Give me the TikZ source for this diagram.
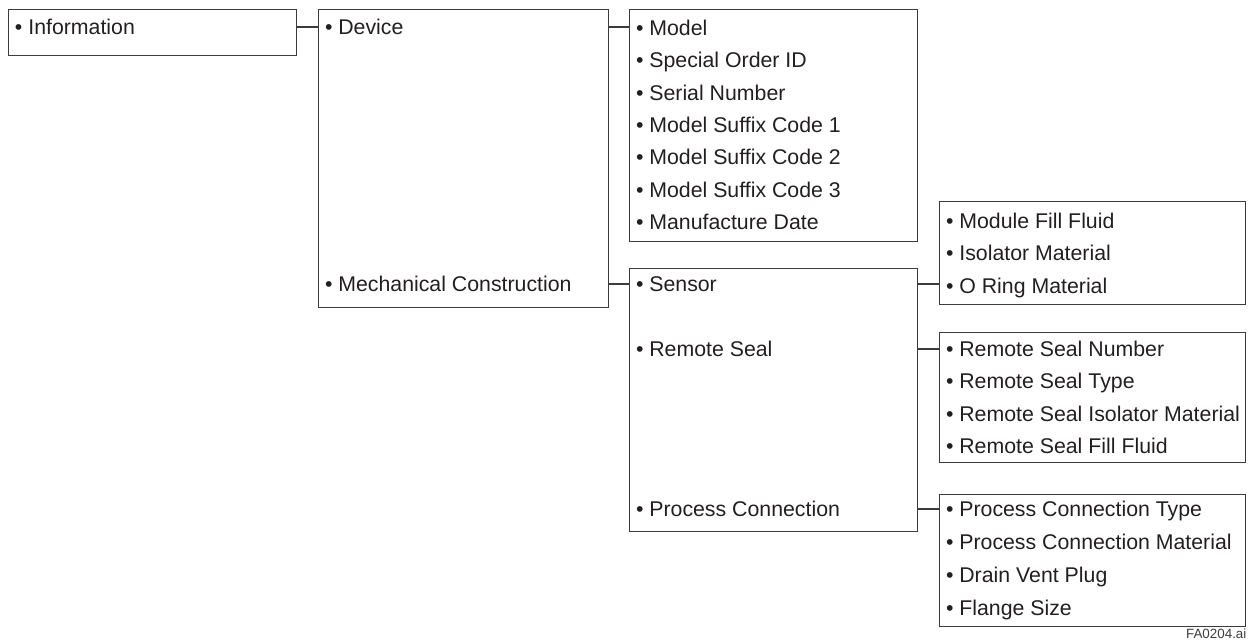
\documentclass[tikz,border=0pt]{standalone}
\usepackage{fontspec}
\setmainfont{Liberation Sans}
\usepackage{tikz}
\usetikzlibrary{positioning,calc}
\definecolor{boxgray}{RGB}{60,60,60}
\definecolor{textblack}{RGB}{35,31,32}

\begin{document}
\begin{tikzpicture}[x=0.5pt, y=-0.5pt, line width=0.6pt]
  \tikzstyle{box} = [rectangle, draw=boxgray, anchor=north west, inner sep=0pt]
  \tikzstyle{item} = [anchor=west, inner sep=0pt, outer sep=0pt, text height=7.6pt, text depth=0pt, text=textblack, font=\fontsize{10.65}{12}\selectfont]
  \tikzstyle{link} = [draw=boxgray]
  \useasboundingbox (0,0) rectangle (1249,642);

  % boxes
  \node[box, minimum width=144pt, minimum height=23pt] (infobox) at (8,9) {};
  \node[box, minimum width=145pt, minimum height=149pt] (devbox) at (318,9) {};
  \node[box, minimum width=144pt, minimum height=116pt] (modelbox) at (629,9) {};
  \node[box, minimum width=144pt, minimum height=131.5pt] (sensorbox) at (629,268) {};
  \node[box, minimum width=153pt, minimum height=51.5pt] (fluidbox) at (939,201) {};
  \node[box, minimum width=153pt, minimum height=65pt] (sealbox) at (939,332) {};
  \node[box, minimum width=153pt, minimum height=66pt] (procbox) at (939,494) {};

  % first level
  \node[item] (info) at (15,27) {• Information};
  \node[item] (device) at (325,27) {• Device};
  \node[item] (mech) at (325,284) {• Mechanical Construction};

  % device data
  \node[item] (model) at (636,28) {• Model};
  \node[item, below right=8.55pt and 0pt of model.south west] (orderid) {• Special Order ID};
  \node[item, below right=8.55pt and 0pt of orderid.south west] (serial) {• Serial Number};
  \node[item, below right=8.55pt and 0pt of serial.south west] (suffix1) {• Model Suffix Code 1};
  \node[item, below right=8.55pt and 0pt of suffix1.south west] (suffix2) {• Model Suffix Code 2};
  \node[item, below right=8.55pt and 0pt of suffix2.south west] (suffix3) {• Model Suffix Code 3};
  \node[item, below right=8.55pt and 0pt of suffix3.south west] (mfgdate) {• Manufacture Date};

  % mechanical construction
  \node[item] (sensor) at (636,284) {• Sensor};
  \node[item] (seal) at (636,349) {• Remote Seal};
  \node[item] (proc) at (636,509) {• Process Connection};

  % sensor data
  \node[item] (fillfluid) at (946,221) {• Module Fill Fluid};
  \node[item, below right=8.55pt and 0pt of fillfluid.south west] (isolator) {• Isolator Material};
  \node[item, below right=8.55pt and 0pt of isolator.south west] (oring) {• O Ring Material};

  % remote seal data
  \node[item] (sealnum) at (946,349) {• Remote Seal Number};
  \node[item, below right=8.55pt and 0pt of sealnum.south west] (sealtype) {• Remote Seal Type};
  \node[item, below right=8.55pt and 0pt of sealtype.south west] (sealiso) {• Remote Seal Isolator Material};
  \node[item, below right=8.55pt and 0pt of sealiso.south west] (sealfill) {• Remote Seal Fill Fluid};

  % process connection data
  \node[item] (proctype) at (946,509) {• Process Connection Type};
  \node[item, below right=8.8pt and 0pt of proctype.south west] (procmat) {• Process Connection Material};
  \node[item, below right=8.8pt and 0pt of procmat.south west] (drain) {• Drain Vent Plug};
  \node[item, below right=8.8pt and 0pt of drain.south west] (flange) {• Flange Size};

  % connectors
  \draw[link] (info.west -| infobox.east) -- (info.west -| devbox.west);
  \draw[link] (device.west -| devbox.east) -- (device.west -| modelbox.west);
  \draw[link] (mech.west -| devbox.east) -- (mech.west -| sensorbox.west);
  \draw[link] (sensor.west -| sensorbox.east) -- (sensor.west -| fluidbox.west);
  \draw[link] (seal.west -| sensorbox.east) -- (seal.west -| sealbox.west);
  \draw[link] (proc.west -| sensorbox.east) -- (proc.west -| procbox.west);

  \node[anchor=east, inner sep=0pt, text=boxgray, font=\fontsize{6.7}{8}\selectfont] (figid) at (1247,634) {FA0204.ai};
\end{tikzpicture}
\end{document}
